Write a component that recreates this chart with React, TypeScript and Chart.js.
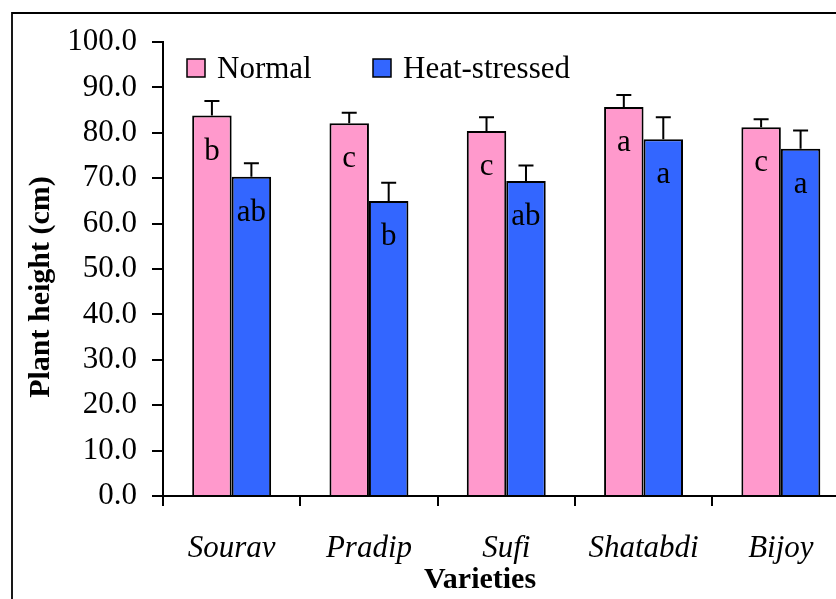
import React, { useEffect, useRef } from "react";
import { Chart, registerables } from "chart.js";

Chart.register(...registerables);

// Plant height of wheat varieties under normal and heat-stressed conditions
const varieties = ["Sourav", "Pradip", "Sufi", "Shatabdi", "Bijoy"];
const normalHeight = [83.8, 82.1, 80.4, 85.7, 81.2];
const normalSE = [3.2, 2.3, 3.0, 2.6, 1.8];
const heatHeight = [70.3, 65.0, 69.4, 78.6, 76.5];
const heatSE = [3.0, 4.0, 3.4, 4.8, 4.0];
const normalLetters = ["b", "c", "c", "a", "c"];
const heatLetters = ["ab", "b", "ab", "a", "a"];
const seriesNames = ["Normal", "Heat-stressed"];

const PINK = "#FF99CC";
const BLUE = "#3366FF";
const SERIF = "'Liberation Serif', 'Times New Roman', serif";

const CANVAS_W = 870;
const CANVAS_H = 599;

const extrasPlugin = {
  id: "extras",
  afterDatasetsDraw(chart: any) {
    const ctx = chart.ctx;
    const y = chart.scales.y;
    const errs = [normalSE, heatSE];
    const letters = [normalLetters, heatLetters];
    ctx.save();
    // error bars (upper whisker only) and significance letters
    chart.data.datasets.forEach((ds: any, i: number) => {
      const meta = chart.getDatasetMeta(i);
      meta.data.forEach((bar: any, j: number) => {
        const top = y.getPixelForValue(ds.data[j] + errs[i][j]);
        ctx.strokeStyle = "#000";
        ctx.lineWidth = 2;
        ctx.beginPath();
        ctx.moveTo(bar.x, bar.y);
        ctx.lineTo(bar.x, top);
        ctx.moveTo(bar.x - 7.5, top);
        ctx.lineTo(bar.x + 7.5, top);
        ctx.stroke();

        ctx.fillStyle = "#000";
        ctx.font = `31px ${SERIF}`;
        ctx.textAlign = "center";
        ctx.textBaseline = "alphabetic";
        ctx.fillText(letters[i][j], bar.x, bar.y + 44);
      });
    });
    ctx.restore();
  },
  afterDraw(chart: any) {
    const ctx = chart.ctx;
    ctx.save();
    // outer frame
    ctx.strokeStyle = "#000";
    ctx.lineWidth = 1.8;
    ctx.beginPath();
    ctx.moveTo(12, CANVAS_H + 5);
    ctx.lineTo(12, 13);
    ctx.lineTo(CANVAS_W + 5, 13);
    ctx.stroke();

    // legend
    const fills = [PINK, BLUE];
    const legendX = [187, 373];
    ctx.font = `31px ${SERIF}`;
    ctx.textAlign = "left";
    ctx.textBaseline = "alphabetic";
    seriesNames.forEach((name, i) => {
      ctx.fillStyle = fills[i];
      ctx.fillRect(legendX[i], 59, 18, 18);
      ctx.lineWidth = 1.5;
      ctx.strokeStyle = "#000";
      ctx.strokeRect(legendX[i], 59, 18, 18);
      ctx.fillStyle = "#000";
      ctx.fillText(name, legendX[i] + 30, 78);
    });

    // axis titles
    ctx.font = `bold 30px ${SERIF}`;
    ctx.textAlign = "center";
    ctx.textBaseline = "middle";
    ctx.fillText("Varieties", 480, 580);
    ctx.translate(41, 287);
    ctx.rotate(-Math.PI / 2);
    ctx.fillText("Plant height (cm)", 0, 0);
    ctx.restore();
  },
};

export default function App() {
  const ref = useRef<HTMLCanvasElement | null>(null);

  useEffect(() => {
    if (!ref.current) return;
    document.body.style.margin = "0";
    const chart = new Chart(ref.current, {
      type: "bar",
      data: {
        labels: varieties,
        datasets: [
          {
            label: seriesNames[0],
            data: normalHeight,
            backgroundColor: PINK,
            borderColor: "#000",
            borderWidth: 2,
          },
          {
            label: seriesNames[1],
            data: heatHeight,
            backgroundColor: BLUE,
            borderColor: "#000",
            borderWidth: 2,
          },
        ],
      },
      options: {
        responsive: false,
        animation: false,
        devicePixelRatio: 1,
        layout: { padding: { left: 0, top: 42, right: CANVAS_W - 849.5, bottom: 0 } },
        datasets: {
          bar: { categoryPercentage: 0.575, barPercentage: 1 },
        },
        plugins: {
          legend: { display: false },
          tooltip: { enabled: false },
        },
        scales: {
          x: {
            offset: true,
            grid: {
              offset: true,
              drawOnChartArea: false,
              drawTicks: true,
              tickLength: 10,
              color: "#000",
              lineWidth: 2,
            },
            border: { color: "#000", width: 2 },
            ticks: {
              color: "#000",
              padding: 24,
              font: { family: SERIF, size: 31, style: "italic" },
            },
            afterFit: (scale: any) => {
              scale.height = CANVAS_H - 496;
            },
          },
          y: {
            min: 0,
            max: 100,
            grid: {
              drawOnChartArea: false,
              drawTicks: true,
              tickLength: 11,
              color: "#000",
              lineWidth: 2,
            },
            border: { color: "#000", width: 2 },
            ticks: {
              stepSize: 10,
              color: "#000",
              padding: 15,
              font: { family: SERIF, size: 31 },
              callback: (v: any) => Number(v).toFixed(1),
            },
            afterFit: (scale: any) => {
              scale.width = 163;
            },
          },
        },
      },
      plugins: [extrasPlugin],
    });
    return () => chart.destroy();
  }, []);

  return (
    <div
      style={{
        position: "fixed",
        left: 0,
        top: 0,
        width: 836,
        height: 599,
        overflow: "hidden",
        background: "#fff",
      }}
    >
      <canvas ref={ref} width={CANVAS_W} height={CANVAS_H} style={{ display: "block" }} />
    </div>
  );
}
